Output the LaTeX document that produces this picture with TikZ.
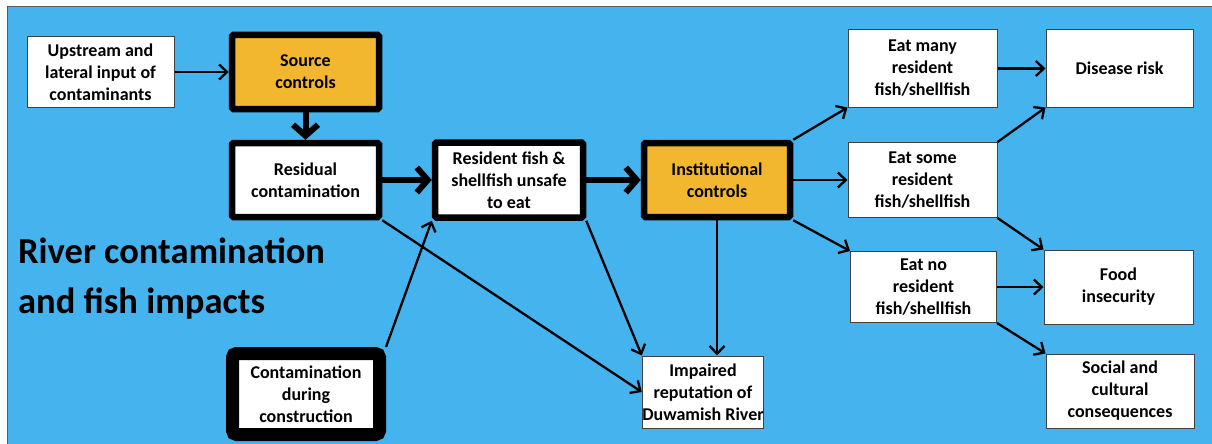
\documentclass[tikz,border=0pt]{standalone}
\usepackage{fontspec}
\setmainfont{Carlito}
\usetikzlibrary{arrows.meta}
\definecolor{bgblue}{RGB}{69,179,238}
\definecolor{ctrl}{RGB}{242,183,47}
\newcommand\boxfont{\bfseries\fontsize{18}{22}\selectfont}
\begin{document}
\begin{tikzpicture}[x=1pt,y=-1pt,
  box/.style={draw=black!75,line width=1pt,fill=white,align=center,font=\boxfont,inner sep=0pt},
  heavybox/.style={box,draw=black,line width=6.5pt,rounded corners=1.5pt},
  thinarrow/.style={line width=2.3pt,-{Straight Barb[length=8pt,width=15pt]}},
  heavyarrow/.style={line width=6pt,-{Straight Barb[length=11pt,width=25pt]}}]
\useasboundingbox (0,0) rectangle (1212,444);
\fill[bgblue] (7,7) rectangle (1214,446);
\draw[black!65,line width=1pt] (7,446) -- (7,7) -- (1214,7);

\node[box,minimum width=147pt,minimum height=70pt] (up) at (100.5,72) {Upstream and\\lateral input of\\contaminants};
\node[heavybox,fill=ctrl,minimum width=147pt,minimum height=74pt] (src) at (305.5,72) {Source\\controls};
\node[heavybox,minimum width=147pt,minimum height=74pt] (res) at (305.5,180) {Residual\\contamination};
\node[heavybox,minimum width=148pt,minimum height=75pt] (fish) at (509,180) {Resident fish \&\\shellfish unsafe\\to eat};
\node[heavybox,fill=ctrl,minimum width=146pt,minimum height=74pt] (inst) at (717,180) {Institutional\\controls};
\node[box,minimum width=149pt,minimum height=77pt] (many) at (922.5,68.5) {Eat many\\resident\\fish/shellfish};
\node[box,minimum width=147pt,minimum height=77pt] (dis) at (1119.5,68.5) {Disease risk};
\node[box,minimum width=149pt,minimum height=75pt] (some) at (922.5,180) {Eat some\\resident\\fish/shellfish};
\node[box,minimum width=146pt,minimum height=71pt] (no) at (923.5,287) {Eat no\\resident\\fish/shellfish};
\node[box,minimum width=149pt,minimum height=74pt] (food) at (1118.5,287) {Food\\insecurity};
\node[box,minimum width=148pt,minimum height=74pt] (soc) at (1120,391) {Social and\\cultural\\consequences};
\node[box,minimum width=120pt,minimum height=72pt] (imp) at (703,392) {Impaired\\reputation of\\Duwamish River};
\node[heavybox,line width=13pt,rounded corners=4pt,minimum width=147pt,minimum height=81pt] (cons) at (306,394) {Contamination\\during\\construction};

\node[anchor=north west,align=left,inner sep=0pt,font=\bfseries\fontsize{36.5}{50}\selectfont] (title) at (18,238) {River contamination\\and fish impacts};

\draw[thinarrow] (up) -- (src);
\draw[heavyarrow] (src) -- (res);
\draw[heavyarrow] (res) -- (fish);
\draw[heavyarrow] (fish) -- (inst);
\draw[thinarrow] (inst.north east) -- (many.south west);
\draw[thinarrow] (inst) -- (some);
\draw[thinarrow] (inst.south east) -- (no.north west);
\draw[thinarrow] (many) -- (dis);
\draw[thinarrow] (some.north east) -- (dis.south west);
\draw[thinarrow] (some.south east) -- (food.north west);
\draw[thinarrow] (no) -- (food);
\draw[thinarrow] (no.south east) -- (soc.north west);
\draw[thinarrow] (res.south east) -- (imp.west);
\draw[thinarrow] (cons.north east) -- (fish.south west);
\draw[thinarrow] (fish.south east) -- (imp.north west);
\draw[thinarrow] (inst.south) -- (inst.south |- imp.north);
\end{tikzpicture}
\end{document}
